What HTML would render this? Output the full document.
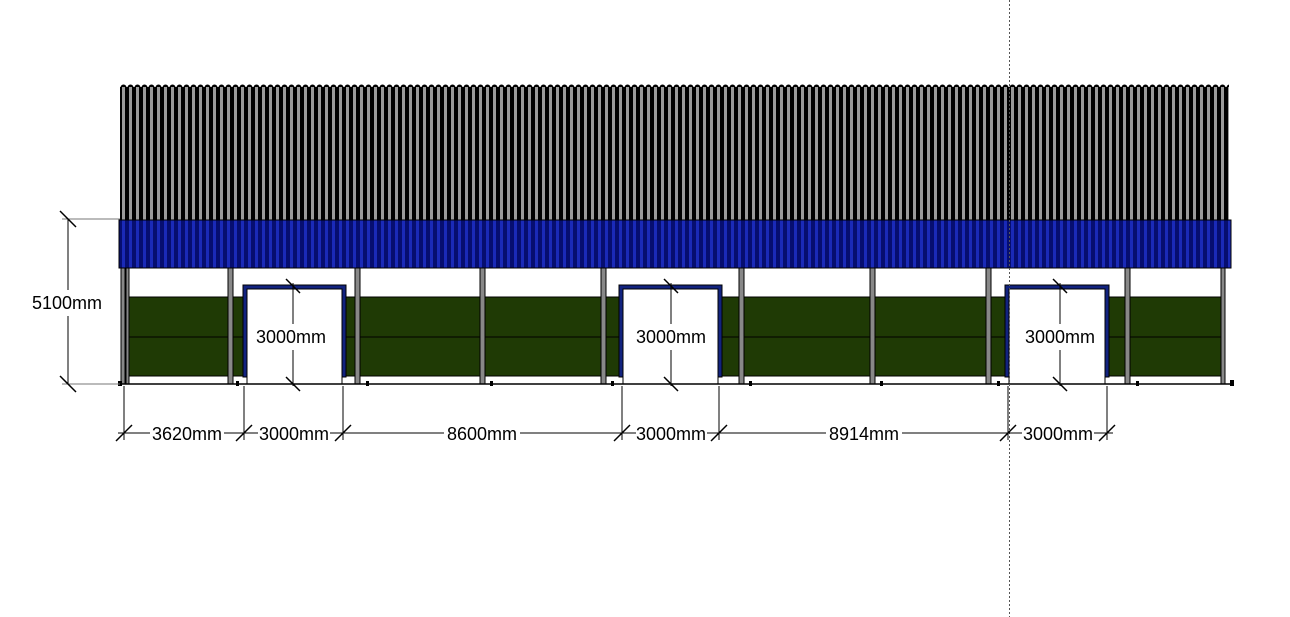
<!DOCTYPE html>
<html><head><meta charset="utf-8"><style>
html,body{margin:0;padding:0;background:#fff;}
svg{display:block;}
text{font-family:"Liberation Sans",sans-serif;font-size:18px;fill:#000;}
</style></head><body>
<svg width="1290" height="617" viewBox="0 0 1290 617" xmlns="http://www.w3.org/2000/svg">
<defs>
<pattern id="roof" x="120" y="0" width="7" height="10" patternUnits="userSpaceOnUse">
<rect width="7" height="10" fill="#000"/><rect x="2" width="3" height="10" fill="#9a9a9a"/>
</pattern>
<pattern id="blue" x="120" y="0" width="7" height="10" patternUnits="userSpaceOnUse">
<rect width="7" height="10" fill="#060e70"/><rect x="2" width="3" height="10" fill="#1a2ab8"/>
</pattern>
<pattern id="scal" x="120" y="84" width="7" height="4" patternUnits="userSpaceOnUse">
<circle cx="3.5" cy="3.5" r="3" fill="#000"/>
</pattern>
</defs>
<rect x="120" y="84" width="1109" height="4" fill="url(#scal)"/>
<rect x="120" y="87" width="1109" height="133" fill="url(#roof)"/>
<rect x="119" y="220" width="1112" height="48" fill="url(#blue)" stroke="#000" stroke-width="1"/>
<rect x="126" y="297" width="1098" height="79" fill="#1f3a05" stroke="#000" stroke-width="1"/>
<line x1="126" y1="337" x2="1224" y2="337" stroke="#000"/>
<g fill="#888" stroke="#000" stroke-width="1">
<rect x="121" y="268" width="4" height="116"/><rect x="126" y="268" width="3" height="116"/>
<rect x="228" y="268" width="5" height="116"/>
<rect x="355" y="268" width="5" height="116"/>
<rect x="480" y="268" width="5" height="116"/>
<rect x="601" y="268" width="5" height="116"/>
<rect x="739" y="268" width="5" height="116"/>
<rect x="870" y="268" width="5" height="116"/>
<rect x="986" y="268" width="5" height="116"/>
<rect x="1125" y="268" width="5" height="116"/>
<rect x="1221" y="268" width="4" height="116"/>
</g>
<g stroke="#000" stroke-width="1">
<rect x="243" y="285" width="103" height="92" fill="#12237f"/>
<rect x="247" y="289" width="95" height="95" fill="#fff"/>
<rect x="619" y="285" width="103" height="92" fill="#12237f"/>
<rect x="623" y="289" width="95" height="95" fill="#fff"/>
<rect x="1005" y="285" width="104" height="92" fill="#12237f"/>
<rect x="1009" y="289" width="96" height="95" fill="#fff"/>
</g>
<line x1="118" y1="384" x2="1234" y2="384" stroke="#000" stroke-width="1.5"/>
<g fill="#000">
<rect x="118" y="381" width="4" height="5"/><rect x="236" y="381" width="3" height="5"/>
<rect x="366" y="381" width="3" height="5"/><rect x="490" y="381" width="3" height="5"/>
<rect x="611" y="381" width="3" height="5"/><rect x="749" y="381" width="3" height="5"/>
<rect x="880" y="381" width="3" height="5"/><rect x="997" y="381" width="3" height="5"/>
<rect x="1136" y="381" width="3" height="5"/><rect x="1230" y="380" width="4" height="6"/>
</g>
<line x1="1009.5" y1="0" x2="1009.5" y2="617" stroke="#555" stroke-width="1" stroke-dasharray="2,2"/>
<g stroke="#000" stroke-width="1">
<line x1="62" y1="219" x2="120" y2="219" stroke="#777"/>
<line x1="62" y1="384" x2="120" y2="384" stroke="#777"/>
<line x1="68" y1="219" x2="68" y2="290"/><line x1="68" y1="316" x2="68" y2="384"/>
<g stroke-width="1.5">
<line x1="60" y1="211" x2="76" y2="227"/><line x1="60" y1="376" x2="76" y2="392"/>
<line x1="286" y1="279" x2="300" y2="293"/><line x1="286" y1="377" x2="300" y2="391"/>
<line x1="664" y1="279" x2="678" y2="293"/><line x1="664" y1="377" x2="678" y2="391"/>
<line x1="1053" y1="279" x2="1067" y2="293"/><line x1="1053" y1="377" x2="1067" y2="391"/>
</g>
<line x1="293" y1="283" x2="293" y2="324"/><line x1="293" y1="350" x2="293" y2="386"/>
<line x1="671" y1="283" x2="671" y2="324"/><line x1="671" y1="350" x2="671" y2="386"/>
<line x1="1060" y1="283" x2="1060" y2="324"/><line x1="1060" y1="350" x2="1060" y2="386"/>
<line x1="124" y1="386" x2="124" y2="440"/><line x1="244" y1="386" x2="244" y2="440"/>
<line x1="343" y1="386" x2="343" y2="440"/><line x1="622" y1="386" x2="622" y2="440"/>
<line x1="719" y1="386" x2="719" y2="440"/><line x1="1008" y1="386" x2="1008" y2="440"/>
<line x1="1107" y1="386" x2="1107" y2="440"/>
<line x1="118" y1="433" x2="150" y2="433"/><line x1="224" y1="433" x2="258" y2="433"/>
<line x1="330" y1="433" x2="444" y2="433"/><line x1="520" y1="433" x2="636" y2="433"/>
<line x1="707" y1="433" x2="826" y2="433"/><line x1="902" y1="433" x2="1022" y2="433"/>
<line x1="1094" y1="433" x2="1113" y2="433"/>
<g stroke-width="1.5">
<line x1="116" y1="441" x2="132" y2="425"/><line x1="236" y1="441" x2="252" y2="425"/>
<line x1="335" y1="441" x2="351" y2="425"/><line x1="614" y1="441" x2="630" y2="425"/>
<line x1="711" y1="441" x2="727" y2="425"/><line x1="1000" y1="441" x2="1016" y2="425"/>
<line x1="1099" y1="441" x2="1115" y2="425"/>
</g>
</g>
<text x="67" y="309" text-anchor="middle">5100mm</text>
<text x="291" y="343" text-anchor="middle">3000mm</text>
<text x="671" y="343" text-anchor="middle">3000mm</text>
<text x="1060" y="343" text-anchor="middle">3000mm</text>
<text x="187" y="440" text-anchor="middle">3620mm</text>
<text x="294" y="440" text-anchor="middle">3000mm</text>
<text x="482" y="440" text-anchor="middle">8600mm</text>
<text x="671" y="440" text-anchor="middle">3000mm</text>
<text x="864" y="440" text-anchor="middle">8914mm</text>
<text x="1058" y="440" text-anchor="middle">3000mm</text>
</svg>
</body></html>
